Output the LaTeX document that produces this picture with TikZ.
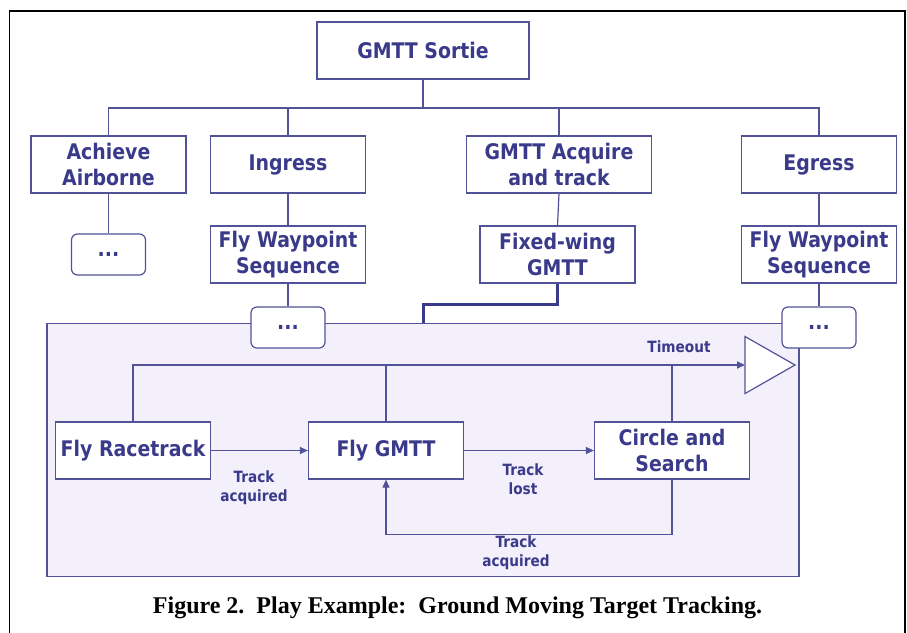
\documentclass[tikz,border=0pt]{standalone}
\usepackage{fontspec}
\setmainfont{DejaVu Sans}[FakeStretch=0.88]
\newfontfamily\capfont{Liberation Serif}
\usetikzlibrary{arrows.meta}
\definecolor{navy}{RGB}{58,58,138}
\definecolor{edge}{RGB}{82,82,152}
\definecolor{lavender}{RGB}{243,240,251}
\begin{document}
\begin{tikzpicture}[x=1pt, y=-1pt,
    block/.style={rectangle, draw=edge, line width=1.2pt, fill=white,
              minimum width=155pt, minimum height=57pt, inner sep=0pt,
              text centered, align=center, text=navy,
              font=\bfseries\fontsize{21.5}{26}\selectfont},
    dots/.style={block, rounded corners=6pt,
              minimum width=74pt, minimum height=41pt},
    lbl/.style={text=navy, align=center, inner sep=0pt,
              font=\bfseries\fontsize{15.5}{19}\selectfont},
    link/.style={draw=edge, line width=1.2pt},
    flow/.style={link, -{Triangle[length=8pt,width=7pt]}}
]
    \useasboundingbox (0,0) rectangle (907,632);
    \clip (0,0) rectangle (907,632);
    % outer frame
    \draw[line width=1.4pt] (9.5,650) |- (905,11) -- (905,650);

    % play area
    \node[rectangle, draw=edge, line width=1.2pt, fill=lavender,
          minimum width=752pt, minimum height=253pt] (play) at (423,450) {};

    % tree
    \node[block, minimum width=212pt] (sortie) at (423,50.5) {GMTT Sortie};
    \node[block] (achieve) at (108.5,164.5) {Achieve\\Airborne};
    \node[block] (ingress) at (288,164.5) {Ingress};
    \node[block, minimum width=185pt] (acquire) at (559,164.5) {GMTT Acquire\\and track};
    \node[block] (egress) at (819,164.5) {Egress};
    \node[dots] (dotsa) at (108.5,254.5) {...};
    \node[block] (wpin) at (288,254.5) {Fly Waypoint\\Sequence};
    \node[block] (fixed) at (557.5,254.5) {Fixed-wing\\GMTT};
    \node[block] (wpeg) at (819,254.5) {Fly Waypoint\\Sequence};
    \node[dots] (dotsi) at (288,327.5) {...};
    \node[dots] (dotse) at (819,327.5) {...};

    \coordinate (bus) at (0,108);
    \draw[link] (sortie.south) -- (sortie.south |- bus);
    \draw[link] (achieve.north) |- (egress.north |- bus) -- (egress.north);
    \draw[link] (ingress.north) -- (ingress.north |- bus);
    \draw[link] (acquire.north) -- (acquire.north |- bus);
    \draw[link] (achieve) -- (dotsa);
    \draw[link] (ingress) -- (wpin);
    \draw[link] (wpin) -- (dotsi);
    \draw[link] (acquire.south) -- (fixed.north);
    \draw[link] (egress) -- (wpeg);
    \draw[link] (wpeg) -- (dotse);
    \draw[draw=navy, line width=3pt] (fixed.south) -- ++(0,21) -| (play.north);

    % states
    \node[block] (race) at (133,450.5) {Fly Racetrack};
    \node[block] (flygmtt) at (386,450.5) {Fly GMTT};
    \node[block] (circle) at (672,450.5) {Circle and\\Search};

    % timeout exit
    \coordinate (tri) at (745,365);
    \draw[link, fill=white] (tri) ++(0,-28.5) -- ++(50,28.5) -- ++(-50,28.5) -- cycle;
    \draw[flow, line width=1.8pt] (race.north) |- (tri);
    \draw[link, line width=1.6pt] (flygmtt.north) -- (flygmtt.north |- tri);
    \draw[link, line width=1.6pt] (circle.north) -- (circle.north |- tri);
    \node[lbl] (tolbl) at (679,347) {Timeout};

    % transitions
    \draw[flow] (race.east) -- (flygmtt.west);
    \node[lbl] (acqa) at (254,487.5) {Track\\acquired};
    \draw[flow] (flygmtt.east) -- (circle.west);
    \node[lbl] (lost) at (523,479.5) {Track\\lost};
    \draw[flow] (circle.south) -- ++(0,55) -| (flygmtt.south);
    \node[lbl] (acqb) at (516,552.5) {Track\\acquired};

    % caption
    \node[anchor=base, inner sep=0pt, font=\capfont\bfseries\fontsize{24}{28}\selectfont]
        (caption) at (457.5,613) {Figure 2.\ \ Play Example:\ \ Ground Moving Target Tracking.};
\end{tikzpicture}
\end{document}
